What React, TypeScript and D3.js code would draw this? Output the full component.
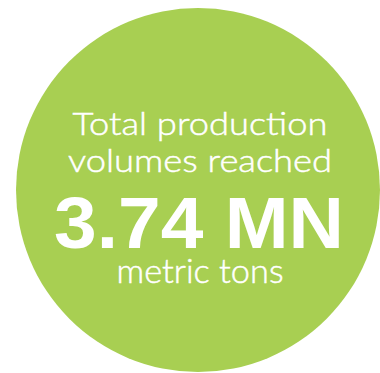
import React from "react";
import * as d3 from "d3";

const lines = ["Total production", "volumes reached"];
const headline = "3.74 MN";
const unit = "metric tons";

export default function App() {
  const W = 380, H = 373;
  const cx = 198, cy = 190, r = 182;
  const arc = d3.arc()({ innerRadius: 0, outerRadius: r, startAngle: 0, endAngle: 2 * Math.PI }) as string;
  return (
    <svg width={W} height={H} style={{ position: "absolute", left: 0, top: 0 }}>
      <rect width={W} height={H} fill="#ffffff" />
      <path d={arc} transform={`translate(${cx},${cy})`} fill="#a8cf52" />
      <g fill="#ffffff" stroke="#ffffff" strokeWidth={0.5} textAnchor="middle" fontFamily="Lato, 'Open Sans', sans-serif" fontWeight={300}>
        <text x={200} y={135} fontSize={32} textLength={255} lengthAdjust="spacingAndGlyphs">{lines[0]}</text>
        <text x={200} y={172} fontSize={32} textLength={264} lengthAdjust="spacingAndGlyphs">{lines[1]}</text>
        <text x={199} y={248} fontSize={73} strokeWidth={0} fontWeight={700} fontFamily="'Liberation Sans', Arial, sans-serif" textLength={290} lengthAdjust="spacingAndGlyphs">{headline}</text>
        <text x={200} y={283} fontSize={34} textLength={167} lengthAdjust="spacingAndGlyphs">{unit}</text>
      </g>
    </svg>
  );
}
